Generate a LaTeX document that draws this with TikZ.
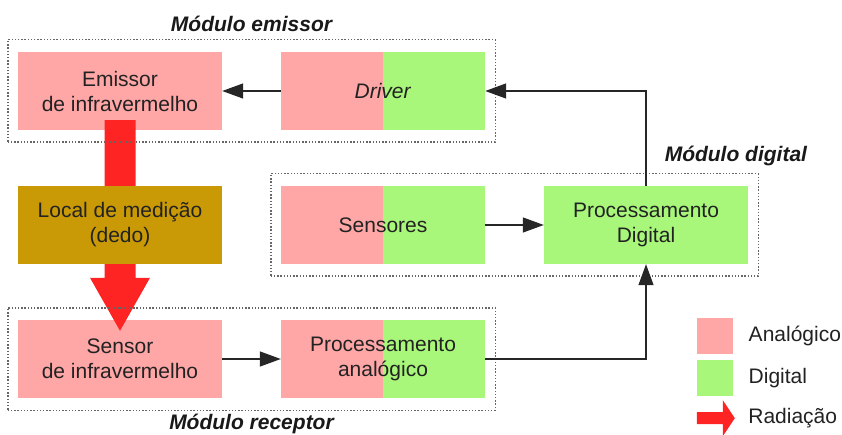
\documentclass[tikz,border=0pt]{standalone}
\usepackage{fontspec}
\setmainfont{Liberation Sans}
\usetikzlibrary{arrows.meta, positioning, fit, calc}
\usepackage{xcolor}

\definecolor{analog}{HTML}{FFA6A6}
\definecolor{digital}{HTML}{A8F77A}
\definecolor{ochre}{HTML}{C99A06}
\definecolor{radred}{HTML}{FF2424}
\definecolor{inkgray}{HTML}{222222}

\begin{document}
\begin{tikzpicture}[
    x=1pt, y=1pt,
    node distance=134pt and 263pt, % first value is vertical, second is horizontal
    on grid,
    every node/.style={font=\fontsize{21}{25}\selectfont, text=inkgray},
    box/.style={rectangle, minimum width=204pt, minimum height=78pt, align=center, inner sep=0pt},
    anabox/.style={box, fill=analog},
    digbox/.style={box, fill=digital},
    mixbox/.style={box, fill=analog, path picture={
        \fill[digital] (path picture bounding box.south) rectangle (path picture bounding box.north east);}},
    frame/.style={draw=black!60, line width=1.4pt, dash pattern=on 1.4pt off 1.8pt, inner xsep=10pt, inner ysep=12pt},
    title/.style={font=\fontsize{21}{25}\selectfont\bfseries\itshape, text=black!90, inner sep=0pt},
    arrow/.style={-{Triangle[length=21pt, width=15pt]}, line width=1.3pt, draw=black!85}
]
    \useasboundingbox (0,0) rectangle (842,-435);

    % Emitter row
    \node[anabox] (emissor) at (120,-91) {Emissor\\de infravermelho};
    \node[mixbox, right=of emissor] (driver) {\textit{Driver}};

    % Receiver row
    \node[anabox, below=268pt of emissor] (sensor) {Sensor\\de infravermelho};
    \node[mixbox, right=of sensor] (procana) {Processamento\\analógico};

    % Digital module
    \node[mixbox, below=of driver] (sensores) {Sensores};
    \node[digbox, right=of sensores] (procdig) {Processamento\\Digital};

    % Radiation through the finger
    \coordinate (radtop) at ($(emissor.south)+(0,10)$);
    \coordinate (radtip) at ($(sensor.north)+(0,-11)$);
    \fill[radred] ($(radtop)+(-15.5,0)$) -- ($(radtip)+(-15.5,53)$) -- ($(radtip)+(-30,53)$)
        -- (radtip) -- ($(radtip)+(30,53)$) -- ($(radtip)+(15.5,53)$) -- ($(radtop)+(15.5,0)$) -- cycle;
    \node[box, fill=ochre, below=of emissor] (local) {Local de medição\\(dedo)};

    % Module frames
    \node[frame, fit=(emissor)(driver)] (emisframe) {};
    \node[frame, fit=(sensor)(procana)] (recframe) {};
    \node[frame, fit=(sensores)(procdig)] (digframe) {};
    \node[title, above=7pt of emisframe.north, anchor=south] {Módulo emissor};
    \node[title, below=3pt of recframe.south, anchor=north] {Módulo receptor};
    \node[title, anchor=south] at ($(digframe.north east)+(-23,7)$) {Módulo digital};

    % Signal flow
    \draw[arrow] (driver) -- (emissor);
    \draw[arrow] (sensor) -- (procana);
    \draw[arrow] (sensores) -- (procdig);
    \draw[arrow] (procana.east) -| (procdig.south);
    \draw[arrow] (procdig.north) |- (driver.east);

    % Legend
    \node[rectangle, fill=analog, minimum size=36pt, inner sep=0pt] (leganalog) at (715,-336) {};
    \node[rectangle, fill=digital, minimum size=36pt, inner sep=0pt, below=42pt of leganalog] (legdigital) {};
    \coordinate (legrad) at ($(legdigital.south west)+(0,-22)$);
    \fill[radred] ($(legrad)+(0,6)$) -- ($(legrad)+(26,6)$) -- ($(legrad)+(26,18)$) -- ($(legrad)+(38,0)$)
        -- ($(legrad)+(26,-18)$) -- ($(legrad)+(26,-6)$) -- ($(legrad)+(0,-6)$) -- cycle;
    \node[anchor=west] at ($(leganalog.east)+(12,0)$) {Analógico};
    \node[anchor=west] at ($(legdigital.east)+(12,0)$) {Digital};
    \node[anchor=west] at ($(legrad)+(48,0)$) {Radiação};
\end{tikzpicture}
\end{document}
